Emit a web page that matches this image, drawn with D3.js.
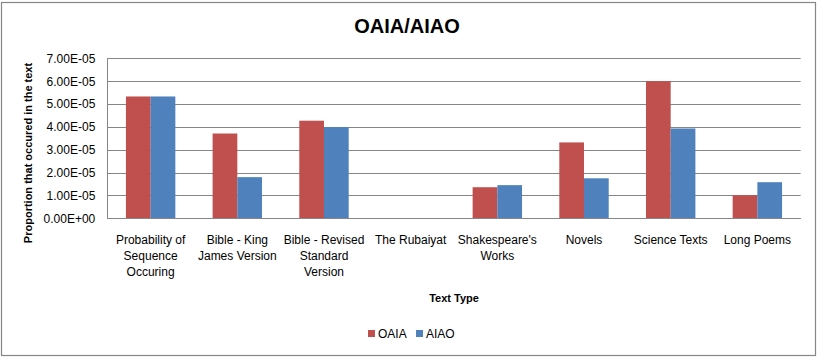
<!DOCTYPE html>
<html>
<head>
<meta charset="utf-8">
<script src="https://cdn.jsdelivr.net/npm/d3@7"></script>
<style>
  html, body { margin: 0; padding: 0; background: #fff; }
  svg { display: block; }
  text { font-family: "Liberation Sans", Arial, sans-serif; fill: #000; }
</style>
</head>
<body>
<script>
const categories = [
  ["Probability of", "Sequence", "Occuring"],
  ["Bible - King", "James Version"],
  ["Bible - Revised", "Standard", "Version"],
  ["The Rubaiyat"],
  ["Shakespeare's", "Works"],
  ["Novels"],
  ["Science Texts"],
  ["Long Poems"]
];
const seriesNames = ["OAIA", "AIAO"];
const oaiaValues = [5.33e-5, 3.71e-5, 4.27e-5, 0, 1.36e-5, 3.32e-5, 6.0e-5, 1.01e-5];
const aiaoValues = [5.33e-5, 1.80e-5, 3.99e-5, 0, 1.45e-5, 1.75e-5, 3.93e-5, 1.58e-5];
const yTicks = [0, 1e-5, 2e-5, 3e-5, 4e-5, 5e-5, 6e-5, 7e-5];
const yTickLabels = ["0.00E+00", "1.00E-05", "2.00E-05", "3.00E-05", "4.00E-05", "5.00E-05", "6.00E-05", "7.00E-05"];
const colors = ["#C0504D", "#4F81BD"];
const titleText = "OAIA/AIAO";
const xTitle = "Text Type";
const yTitle = "Proportion that occured in the text";

const W = 818, H = 357;
const plot = { left: 107.3, right: 800.7, top: 58.3, bottom: 218.3 };

const svg = d3.select("body").append("svg").attr("width", W).attr("height", H);

// outer border
svg.append("rect").attr("x", 1.5).attr("y", 2.5).attr("width", 814).attr("height", 353)
  .attr("fill", "#fff").attr("stroke", "#868686").attr("stroke-width", 1.2);

const catKeys = categories.map((c, i) => i);
const x0 = d3.scaleBand().domain(catKeys).range([plot.left, plot.right])
  .paddingInner(0.43).paddingOuter(0.215);
const x1 = d3.scaleBand().domain([0, 1]).range([0, x0.bandwidth()]).padding(0);
const y = d3.scaleLinear().domain([0, 7e-5]).range([plot.bottom, plot.top]);

// gridlines
svg.append("g").selectAll("line").data(yTicks).join("line")
  .attr("x1", plot.left).attr("x2", plot.right)
  .attr("y1", d => Math.round(y(d)) + 0.5).attr("y2", d => Math.round(y(d)) + 0.5)
  .attr("stroke", "#868686").attr("stroke-width", 1);

// y axis labels
const yAxis = d3.axisLeft(y).tickValues(yTicks).tickSize(0).tickPadding(12)
  .tickFormat((d, i) => yTickLabels[i]);
const gy = svg.append("g").attr("transform", `translate(${plot.left},0)`).call(yAxis);
gy.select(".domain").remove();
gy.selectAll("text").attr("font-size", 12).attr("font-family", "Liberation Sans, Arial, sans-serif").attr("fill", "#000");

// bars
const seriesVals = [oaiaValues, aiaoValues];
const groups = svg.append("g").selectAll("g").data(catKeys).join("g")
  .attr("transform", d => `translate(${x0(d)},0)`);
groups.selectAll("rect").data(ci => seriesVals.map((vals, si) => ({ si, v: vals[ci] })))
  .join("rect")
  .attr("x", d => x1(d.si))
  .attr("width", x1.bandwidth())
  .attr("y", d => y(d.v))
  .attr("height", d => y(0) - y(d.v))
  .attr("fill", d => colors[d.si]);

// axis lines
svg.append("line").attr("x1", Math.round(plot.left) + 0.5).attr("x2", Math.round(plot.left) + 0.5)
  .attr("y1", y(7e-5)).attr("y2", y(0)).attr("stroke", "#868686");
svg.append("line").attr("x1", plot.left).attr("x2", plot.right)
  .attr("y1", Math.round(y(0)) + 0.5).attr("y2", Math.round(y(0)) + 0.5).attr("stroke", "#868686");

// category labels
const xl = svg.append("g").selectAll("text").data(catKeys).join("text")
  .attr("text-anchor", "middle").attr("font-size", 12)
  .attr("x", d => x0(d) + x0.bandwidth() / 2).attr("y", 244);
xl.selectAll("tspan").data(d => categories[d]).join("tspan")
  .attr("x", function () { return d3.select(this.parentNode).attr("x"); })
  .attr("dy", (d, i) => i === 0 ? 0 : 16)
  .text(d => d);

// titles
svg.append("text").attr("x", 407).attr("y", 33)
  .attr("text-anchor", "middle").attr("font-size", 20).attr("font-weight", "bold").text(titleText);
svg.append("text").attr("x", (plot.left + plot.right) / 2).attr("y", 302)
  .attr("text-anchor", "middle").attr("font-size", 11).attr("font-weight", "bold").text(xTitle);
svg.append("text").attr("transform", `translate(32,153) rotate(-90)`)
  .attr("text-anchor", "middle").attr("font-size", 11).attr("font-weight", "bold").text(yTitle);

// legend
const legendX = [368, 416];
const lg = svg.append("g").selectAll("g").data(seriesNames).join("g")
  .attr("transform", (d, i) => `translate(${legendX[i]},330)`);
lg.append("rect").attr("width", 7).attr("height", 7).attr("fill", (d, i) => colors[i]);
lg.append("text").attr("x", 10).attr("y", 8).attr("font-size", 12).text(d => d);
</script>
</body>
</html>
